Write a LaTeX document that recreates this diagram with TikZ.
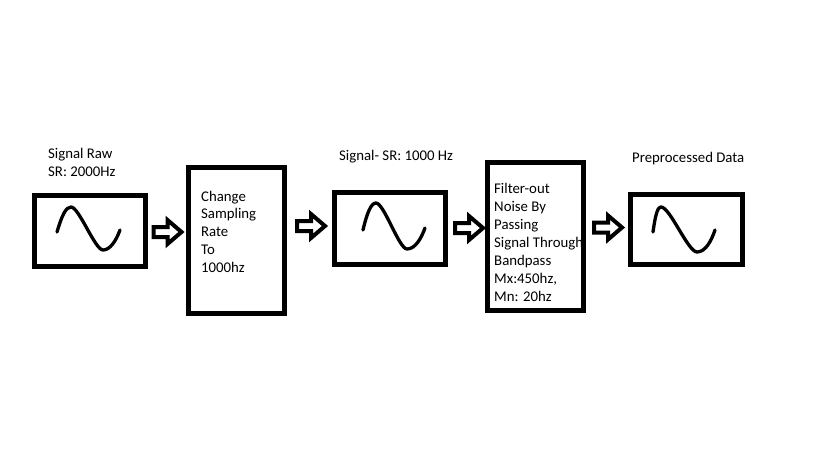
\documentclass[tikz,border=0pt]{standalone}
\usepackage{fontspec}
\setmainfont{Carlito}
\begin{document}
\begin{tikzpicture}[x=1pt,y=-1pt,
  boxline/.style={draw=black,line width=5pt},
  wave/.style={draw=black,line width=3.3pt,line cap=round,line join=round},
  txt/.style={anchor=base west,inner sep=0pt,font=\fontsize{14.8}{18}\selectfont},
  blockarrow/.pic={\draw[line width=4pt,line join=miter] (0,-5) -- (14,-5) -- (14,-12) -- (28,0) -- (14,12) -- (14,5) -- (0,5) -- cycle;}]
\useasboundingbox (0,0) rectangle (819,460);
% boxes
\coordinate (b1a) at (34.5,195.5); \coordinate (b1b) at (145.5,266.5);
\coordinate (b2a) at (188.5,167.5); \coordinate (b2b) at (284.5,313.5);
\coordinate (b3a) at (334.5,192.5); \coordinate (b3b) at (445.5,264.5);
\coordinate (b4a) at (487.5,162.5); \coordinate (b4b) at (583.5,310.5);
\coordinate (b5a) at (630.5,194.5); \coordinate (b5b) at (742.5,264.5);
% labels
\node[txt] (l1a) at (48,158) {Signal Raw};
\node[txt] (l1b) at (48,176) {SR: 2000Hz};
\node[txt] (l3) at (339,160) {Signal- SR: 1000 Hz};
\node[txt] (l5) at (632,162) {Preprocessed Data};
% box 2 text
\foreach \t [count=\i] in {Change,Sampling,Rate,To,1000hz}
  \node[txt] (t2\i) at (201,{201+17.8*(\i-1)}) {\t};
% box 4 text (clipped at border)
\begin{scope}
\clip (b4a) rectangle (b4b);
\foreach \t [count=\i] in {Filter-out,Noise By,Passing,Signal Through,Bandpass,{Mx:450hz,},Mn: 20hz}
  \node[txt] (t4\i) at (494,{193+18*(\i-1)}) {\t};
\end{scope}
\draw[boxline] (b1a) rectangle (b1b);
\draw[boxline] (b2a) rectangle (b2b);
\draw[boxline] (b3a) rectangle (b3b);
\draw[boxline] (b4a) rectangle (b4b);
\draw[boxline] (b5a) rectangle (b5b);
% sine waves
\draw[wave] (57,232) .. controls (62,215) and (66,207) .. (71,207) .. controls (79,207) and (95,250) .. (103,250) .. controls (110,250) and (116,241) .. (120,230);
\draw[wave] (363,230) .. controls (367,213) and (371,203) .. (376,203) .. controls (384,203) and (399,249) .. (407,249) .. controls (415,249) and (421,239) .. (425,228);
\draw[wave] (653,232) .. controls (655,218) and (657,207) .. (661,207) .. controls (670,207) and (688,252) .. (697,252) .. controls (705,252) and (711,242) .. (715,230);
% arrows
\pic at (153.5,232) {blockarrow};
\pic at (297,226) {blockarrow};
\pic at (455,228) {blockarrow};
\pic at (594,227.5) {blockarrow};
\end{tikzpicture}
\end{document}
